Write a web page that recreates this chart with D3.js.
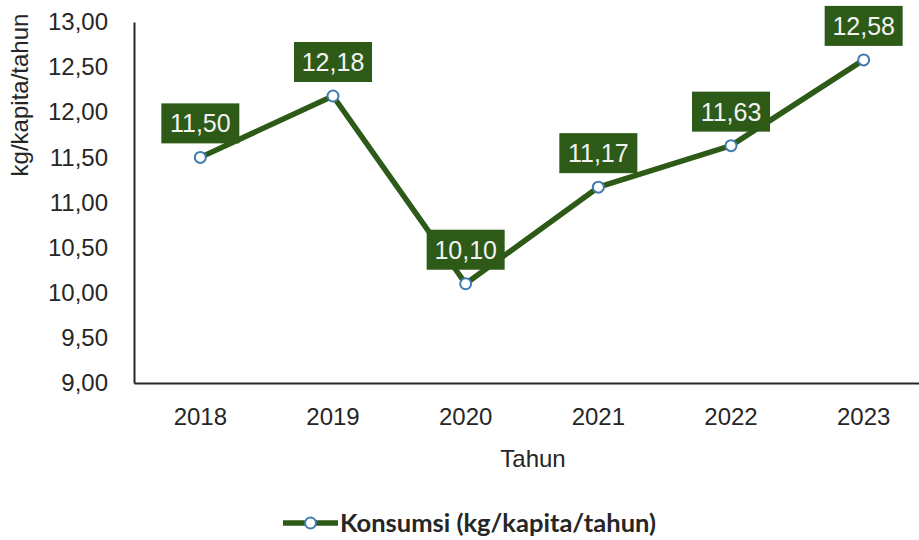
<!DOCTYPE html>
<html>
<head>
<meta charset="utf-8">
<script src="https://cdn.jsdelivr.net/npm/d3@7"></script>
<style>
    body { margin: 0; background: #fff; }
    svg { display: block; font-family: "Liberation Sans", Arial, sans-serif; }
</style>
</head>
<body>
<div id="chart"></div>
<script>
// data
const years = ['2018', '2019', '2020', '2021', '2022', '2023'];
const konsumsi = [11.50, 12.18, 10.10, 11.17, 11.63, 12.58];
const yTicks = [9, 9.5, 10, 10.5, 11, 11.5, 12, 12.5, 13];

const seriesName = 'Konsumsi (kg/kapita/tahun)';
const xTitle = 'Tahun';
const yTitle = 'kg/kapita/tahun';

const width = 919, height = 540;
const green = '#2d5a17';
const markerBlue = '#3f7cb0';

const idLocale = d3.formatLocale({ decimal: ',', thousands: '.', grouping: [3], currency: ['Rp', ''] });
const fmt = idLocale.format('.2f');

const svg = d3.select('#chart').append('svg')
    .attr('width', width)
    .attr('height', height);

const x = d3.scaleBand()
    .domain(years)
    .range([134, 930])
    .padding(0);

const y = d3.scaleLinear()
    .domain([9, 13])
    .range([383, 22]);

const cx = d => x(d) + x.bandwidth() / 2;

// axes
const yAxis = d3.axisLeft(y)
    .tickValues(yTicks)
    .tickFormat(fmt)
    .tickSizeInner(0)
    .tickSizeOuter(0)
    .tickPadding(26);

const xAxis = d3.axisBottom(x)
    .tickSizeInner(0)
    .tickSizeOuter(0)
    .tickPadding(25);

svg.append('g')
    .attr('class', 'x axis')
    .attr('transform', 'translate(0,383)')
    .call(xAxis);

svg.append('g')
    .attr('class', 'y axis')
    .attr('transform', 'translate(134,0)')
    .call(yAxis);

svg.selectAll('.axis .domain')
    .attr('stroke', '#262626')
    .attr('stroke-width', 2);

svg.selectAll('.axis text')
    .attr('font-family', '"Liberation Sans", Arial, sans-serif')
    .attr('font-size', 24)
    .attr('fill', '#262626');

// axis titles
svg.append('text')
    .attr('x', 533)
    .attr('y', 467)
    .attr('text-anchor', 'middle')
    .attr('font-size', 24)
    .attr('fill', '#262626')
    .text(xTitle);

svg.append('text')
    .attr('transform', 'translate(28,95) rotate(-90)')
    .attr('text-anchor', 'middle')
    .attr('font-size', 24)
    .attr('fill', '#262626')
    .text(yTitle);

// line
const line = d3.line()
    .x((d, i) => cx(years[i]))
    .y(d => y(d));

svg.append('path')
    .datum(konsumsi)
    .attr('d', line)
    .attr('fill', 'none')
    .attr('stroke', green)
    .attr('stroke-width', 5.5)
    .attr('stroke-linejoin', 'round');

// data labels
const labels = svg.append('g').attr('class', 'labels')
    .selectAll('g')
    .data(konsumsi).enter()
    .append('g')
    .attr('transform', (d, i) => `translate(${cx(years[i])},${y(d) - 14})`);

labels.append('rect')
    .attr('x', -39)
    .attr('y', -40)
    .attr('width', 78)
    .attr('height', 40)
    .attr('fill', green);

labels.append('text')
    .attr('y', -11)
    .attr('text-anchor', 'middle')
    .attr('font-size', 25)
    .attr('fill', '#f2f2f2')
    .text(d => fmt(d));

// markers
svg.append('g')
    .selectAll('circle')
    .data(konsumsi).enter()
    .append('circle')
    .attr('cx', (d, i) => cx(years[i]))
    .attr('cy', d => y(d))
    .attr('r', 5.5)
    .attr('fill', '#fff')
    .attr('stroke', markerBlue)
    .attr('stroke-width', 2);

// legend
const legend = svg.append('g').attr('transform', 'translate(283,523)');

legend.append('line')
    .attr('x1', 0).attr('x2', 55)
    .attr('stroke', green)
    .attr('stroke-width', 5.5);

legend.append('circle')
    .attr('cx', 27.5)
    .attr('r', 5.5)
    .attr('fill', '#fff')
    .attr('stroke', markerBlue)
    .attr('stroke-width', 2);

legend.append('text')
    .attr('x', 57)
    .attr('y', 9)
    .attr('font-family', 'Lato, "Liberation Sans", sans-serif')
    .attr('font-weight', 700)
    .attr('font-size', 25.5)
    .attr('fill', '#262626')
    .text(seriesName);
</script>
</body>
</html>
